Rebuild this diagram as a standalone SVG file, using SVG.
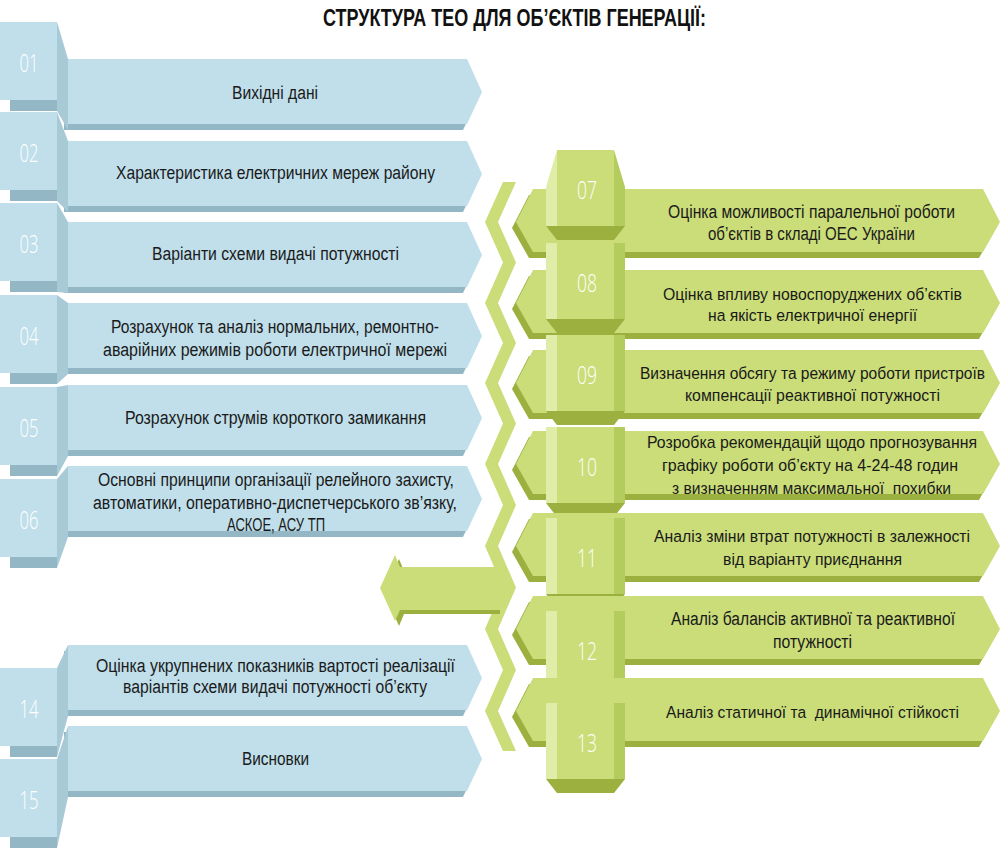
<svg xmlns="http://www.w3.org/2000/svg" xmlns:xlink="http://www.w3.org/1999/xlink" width="1000" height="851" viewBox="0 0 1000 851">
<style>
.bf{fill:#c0dfea}.bs{fill:#a8cad6}.bd{fill:#93b7c5}
.gf{fill:#cadd79}.gl{fill:#e0eda9}.gr{fill:#b4cb5e}.gd{fill:#9cb040}
.t{font-family:"Liberation Sans Narrow","Liberation Sans",Arial,sans-serif;font-size:18px;fill:#1a1a1a}
.n{font-family:"Open Sans","Liberation Sans",Arial,sans-serif;font-size:25px;font-weight:300;fill:#ffffff}
.h{font-family:"Liberation Sans Narrow","Liberation Sans",Arial,sans-serif;font-size:23px;font-weight:bold;fill:#111111}
</style>
<defs>
<polygon id="bb" points="0,0 399,0 414,33 399,65 0,65"/>
<polygon id="gb" points="17,-33 467,-33 484,0 467,30 17,30 0,0"/>
</defs>
<text class="h" x="323" y="26" textLength="383" lengthAdjust="spacingAndGlyphs">СТРУКТУРА ТЕО ДЛЯ ОБ’ЄКТІВ ГЕНЕРАЦІЇ:</text>
<g id="connectors">
<polygon class="gf" points="503,182 485,222 503,262.5 485,303 503,343 485,383 503,423.5 485,464 503,505 485,546 503,587.5 485,629 503,670 485,711 503,751 516,751 498,711 516,670 498,629 516,587.5 498,546 516,505 498,464 516,423.5 498,383 516,343 498,303 516,262.5 498,222 516,182"/>
<polygon class="gd" points="384,592 399,559 404,571 500,571 500,614 404,614 399,626"/>
<polygon class="gf" points="380,588 395,555 400,567 505,567 505,610 400,610 395,621"/>
</g>
<g id="n01">
<use href="#bb" class="bd" x="64" y="65"/><use href="#bb" class="bf" x="68" y="59"/>
<rect class="bd" x="10" y="100" width="47" height="11"/><rect class="bf" x="0" y="22" width="57" height="78"/>
<polygon class="bs" points="57,22 68,59 68,130 57,111"/>
<text class="n" x="19.5" y="72" textLength="19" lengthAdjust="spacingAndGlyphs">01</text>
<text class="t" x="232" y="98.5" textLength="86" lengthAdjust="spacingAndGlyphs">Вихідні дані</text>
</g>
<g id="n02">
<use href="#bb" class="bd" x="64" y="147"/><use href="#bb" class="bf" x="68" y="141"/>
<rect class="bd" x="10" y="190" width="47" height="11"/><rect class="bf" x="0" y="112" width="57" height="78"/>
<polygon class="bs" points="57,112 68,141 68,212 57,201"/>
<text class="n" x="19.5" y="162" textLength="19" lengthAdjust="spacingAndGlyphs">02</text>
<text class="t" x="116" y="178.5" textLength="319" lengthAdjust="spacingAndGlyphs">Характеристика електричних мереж району</text>
</g>
<g id="n03">
<use href="#bb" class="bd" x="64" y="228"/><use href="#bb" class="bf" x="68" y="222"/>
<rect class="bd" x="10" y="281" width="47" height="11"/><rect class="bf" x="0" y="203" width="57" height="78"/>
<polygon class="bs" points="57,203 68,222 68,293 57,292"/>
<text class="n" x="19.5" y="253" textLength="19" lengthAdjust="spacingAndGlyphs">03</text>
<text class="t" x="152" y="259.5" textLength="247" lengthAdjust="spacingAndGlyphs">Варіанти схеми видачі потужності</text>
</g>
<g id="n04">
<use href="#bb" class="bd" x="64" y="309"/><use href="#bb" class="bf" x="68" y="303"/>
<rect class="bd" x="10" y="373" width="47" height="11"/><rect class="bf" x="0" y="295" width="57" height="78"/>
<polygon class="bs" points="57,295 68,303 68,374 57,384"/>
<text class="n" x="19.5" y="345" textLength="19" lengthAdjust="spacingAndGlyphs">04</text>
<text class="t" x="111" y="332.5" textLength="328" lengthAdjust="spacingAndGlyphs">Розрахунок та аналіз нормальних, ремонтно-</text>
<text class="t" x="103" y="355.5" textLength="344" lengthAdjust="spacingAndGlyphs">аварійних режимів роботи електричної мережі</text>
</g>
<g id="n05">
<use href="#bb" class="bd" x="64" y="391"/><use href="#bb" class="bf" x="68" y="385"/>
<rect class="bd" x="10" y="465" width="47" height="11"/><rect class="bf" x="0" y="387" width="57" height="78"/>
<polygon class="bs" points="57,387 68,385 68,456 57,476"/>
<text class="n" x="19.5" y="437" textLength="19" lengthAdjust="spacingAndGlyphs">05</text>
<text class="t" x="125" y="423.5" textLength="301" lengthAdjust="spacingAndGlyphs">Розрахунок струмів короткого замикання</text>
</g>
<g id="n06">
<use href="#bb" class="bd" x="64" y="472"/><use href="#bb" class="bf" x="68" y="466"/>
<rect class="bd" x="10" y="557" width="47" height="11"/><rect class="bf" x="0" y="479" width="57" height="78"/>
<polygon class="bs" points="57,479 68,466 68,537 57,568"/>
<text class="n" x="19.5" y="529" textLength="19" lengthAdjust="spacingAndGlyphs">06</text>
<text class="t" x="98" y="485.5" textLength="356" lengthAdjust="spacingAndGlyphs">Основні принципи організації релейного захисту,</text>
<text class="t" x="93" y="508.5" textLength="364" lengthAdjust="spacingAndGlyphs">автоматики, оперативно-диспетчерського зв’язку,</text>
<text class="t" x="227" y="530.5" textLength="98" lengthAdjust="spacingAndGlyphs">АСКОЕ, АСУ ТП</text>
</g>
<g id="n14">
<use href="#bb" class="bd" x="64" y="651"/><use href="#bb" class="bf" x="68" y="645"/>
<rect class="bd" x="10" y="746" width="47" height="11"/><rect class="bf" x="0" y="668" width="57" height="78"/>
<polygon class="bs" points="57,668 68,645 68,716 57,757"/>
<text class="n" x="19.5" y="718" textLength="19" lengthAdjust="spacingAndGlyphs">14</text>
<text class="t" x="96" y="671.5" textLength="359" lengthAdjust="spacingAndGlyphs">Оцінка укрупнених показників вартості реалізації</text>
<text class="t" x="123" y="692.5" textLength="304" lengthAdjust="spacingAndGlyphs">варіантів схеми видачі потужності об’єкту</text>
</g>
<g id="n15">
<use href="#bb" class="bd" x="64" y="732"/><use href="#bb" class="bf" x="68" y="726"/>
<rect class="bd" x="10" y="837" width="47" height="11"/><rect class="bf" x="0" y="759" width="57" height="78"/>
<polygon class="bs" points="57,759 68,726 68,797 57,848"/>
<text class="n" x="19.5" y="809" textLength="19" lengthAdjust="spacingAndGlyphs">15</text>
<text class="t" x="242" y="764.5" textLength="67" lengthAdjust="spacingAndGlyphs">Висновки</text>
</g>
<g id="n07">
<use href="#gb" class="gd" x="512" y="228"/><use href="#gb" class="gf" x="516" y="222"/>
<rect class="gf" x="557" y="150" width="57" height="78"/>
<polygon class="gl" points="546,187 557,150 557,228 546,226"/>
<polygon class="gr" points="614,150 625,187 625,226 614,228"/>
<polygon class="gd" points="546,226 625,226 614,240 557,240"/>
<text class="n" x="577" y="199" textLength="20" lengthAdjust="spacingAndGlyphs">07</text>
<text class="t" x="668" y="217.5" style="font-size:17.6px" textLength="287" lengthAdjust="spacingAndGlyphs">Оцінка можливості паралельної роботи</text>
<text class="t" x="708" y="239.5" style="font-size:17.6px" textLength="207" lengthAdjust="spacingAndGlyphs">об’єктів в складі ОЕС України</text>
</g>
<g id="n08">
<use href="#gb" class="gd" x="512" y="309"/><use href="#gb" class="gf" x="516" y="303"/>
<rect class="gf" x="557" y="243" width="57" height="78"/>
<rect class="gl" x="546" y="243" width="11" height="76"/>
<rect class="gr" x="614" y="243" width="11" height="76"/>
<polygon class="gd" points="546,319 625,319 614,333 557,333"/>
<text class="n" x="577" y="292" textLength="20" lengthAdjust="spacingAndGlyphs">08</text>
<text class="t" x="663" y="299.5" style="font-size:17.2px" textLength="299" lengthAdjust="spacingAndGlyphs">Оцінка впливу новоспоруджених об’єктів</text>
<text class="t" x="708" y="320.5" style="font-size:17.2px" textLength="209" lengthAdjust="spacingAndGlyphs">на якість електричної енергії</text>
</g>
<g id="n09">
<use href="#gb" class="gd" x="512" y="389"/><use href="#gb" class="gf" x="516" y="383"/>
<rect class="gf" x="557" y="335" width="57" height="78"/>
<rect class="gl" x="546" y="335" width="11" height="76"/>
<rect class="gr" x="614" y="335" width="11" height="76"/>
<polygon class="gd" points="546,411 625,411 614,425 557,425"/>
<text class="n" x="577" y="384" textLength="20" lengthAdjust="spacingAndGlyphs">09</text>
<text class="t" x="640" y="378.5" style="font-size:15.8px" textLength="345" lengthAdjust="spacingAndGlyphs">Визначення обсягу та режиму роботи пристроїв</text>
<text class="t" x="685" y="400.5" style="font-size:16.4px" textLength="255" lengthAdjust="spacingAndGlyphs">компенсації реактивної потужності</text>
</g>
<g id="n10">
<use href="#gb" class="gd" x="512" y="470"/><use href="#gb" class="gf" x="516" y="464"/>
<rect class="gf" x="557" y="427" width="57" height="78"/>
<rect class="gl" x="546" y="427" width="11" height="76"/>
<rect class="gr" x="614" y="427" width="11" height="76"/>
<polygon class="gd" points="546,503 625,503 614,517 557,517"/>
<text class="n" x="577" y="476" textLength="20" lengthAdjust="spacingAndGlyphs">10</text>
<text class="t" x="647" y="447.5" style="font-size:16.4px" textLength="330" lengthAdjust="spacingAndGlyphs">Розробка рекомендацій щодо прогнозування</text>
<text class="t" x="662" y="470.5" style="font-size:16.8px" textLength="296" lengthAdjust="spacingAndGlyphs">графіку роботи об’єкту на 4-24-48 годин</text>
<text class="t" x="672" y="493.5" style="font-size:16.8px" textLength="279" lengthAdjust="spacingAndGlyphs" xml:space="preserve">з визначенням максимальної  похибки</text>
</g>
<g id="n11">
<use href="#gb" class="gd" x="512" y="552"/><use href="#gb" class="gf" x="516" y="546"/>
<rect class="gf" x="557" y="518" width="57" height="78"/>
<rect class="gl" x="546" y="518" width="11" height="76"/>
<rect class="gr" x="614" y="518" width="11" height="76"/>
<polygon class="gd" points="546,594 625,594 614,608 557,608"/>
<text class="n" x="577" y="567" textLength="20" lengthAdjust="spacingAndGlyphs">11</text>
<text class="t" x="654" y="541.5" style="font-size:16.7px" textLength="316" lengthAdjust="spacingAndGlyphs">Аналіз зміни втрат потужності в залежності</text>
<text class="t" x="723" y="564.5" style="font-size:16.7px" textLength="179" lengthAdjust="spacingAndGlyphs">від варіанту приєднання</text>
</g>
<g id="n12">
<use href="#gb" class="gd" x="512" y="635"/><use href="#gb" class="gf" x="516" y="629"/>
<rect class="gf" x="557" y="611" width="57" height="78"/>
<rect class="gl" x="546" y="611" width="11" height="76"/>
<rect class="gr" x="614" y="611" width="11" height="76"/>
<polygon class="gd" points="546,687 625,687 614,701 557,701"/>
<text class="n" x="577" y="660" textLength="20" lengthAdjust="spacingAndGlyphs">12</text>
<text class="t" x="671" y="624.5" style="font-size:17.6px" textLength="284" lengthAdjust="spacingAndGlyphs">Аналіз балансів активної та реактивної</text>
<text class="t" x="773" y="647.5" style="font-size:17.6px" textLength="79" lengthAdjust="spacingAndGlyphs">потужності</text>
</g>
<g id="n13">
<use href="#gb" class="gd" x="512" y="717"/><use href="#gb" class="gf" x="516" y="711"/>
<rect class="gf" x="557" y="703" width="57" height="78"/>
<rect class="gl" x="546" y="703" width="11" height="76"/>
<rect class="gr" x="614" y="703" width="11" height="76"/>
<polygon class="gd" points="546,779 625,779 614,793 557,793"/>
<text class="n" x="577" y="752" textLength="20" lengthAdjust="spacingAndGlyphs">13</text>
<text class="t" x="666" y="717.5" style="font-size:17.2px" textLength="293" lengthAdjust="spacingAndGlyphs" xml:space="preserve">Аналіз статичної та  динамічної стійкості</text>
</g>
</svg>
